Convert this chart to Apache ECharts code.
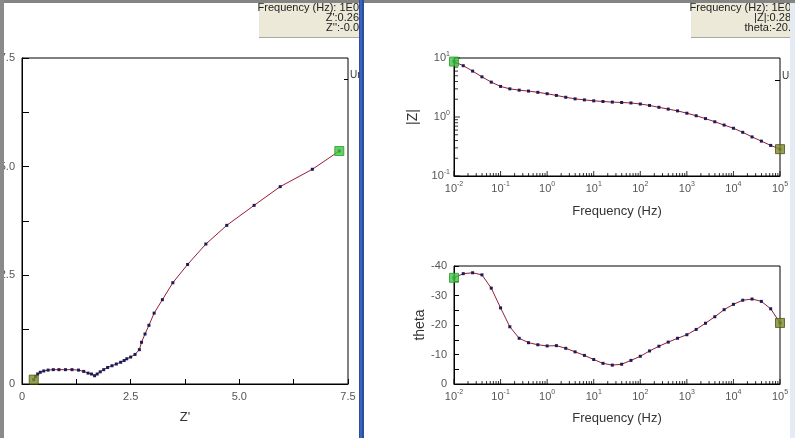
<!DOCTYPE html>
<html><head><meta charset="utf-8">
<script src="https://cdn.jsdelivr.net/npm/echarts@6/dist/echarts.min.js"></script>
<style>html,body{margin:0;padding:0;background:#fff;overflow:hidden}#c{width:795px;height:438px}</style>
</head><body><div id="c"></div>
<script>
// ---- Nyquist data (high frequency -> low frequency) ----
const zReal = [0.27,0.31,0.36,0.42,0.50,0.60,0.72,0.85,1.00,1.15,1.30,1.42,1.52,1.60,1.67,1.73,1.80,1.88,1.97,2.07,2.17,2.27,2.35,2.41,2.50,2.60,2.70,2.75,2.83,2.92,3.04,3.23,3.47,3.81,4.23,4.71,5.34,5.94,6.68,7.30];
const zImagNeg = [0.10,0.17,0.23,0.27,0.30,0.32,0.33,0.33,0.33,0.33,0.32,0.29,0.25,0.23,0.19,0.23,0.28,0.33,0.38,0.42,0.46,0.50,0.54,0.58,0.62,0.68,0.79,0.96,1.15,1.35,1.63,1.94,2.33,2.75,3.22,3.65,4.11,4.54,4.94,5.36];
// ---- Bode data (low frequency -> high frequency) ----
const freq = [0.01,0.0158,0.0251,0.0398,0.0631,0.1,0.158,0.251,0.398,0.631,1,1.58,2.51,3.98,6.31,10,15.8,25.1,39.8,63.1,100,158,251,398,631,1000,1585,2512,3981,6310,10000,15849,25119,39811,63096,100000];
const zMod = [8.7,7.4,6.0,4.8,3.9,3.3,3.0,2.85,2.75,2.62,2.48,2.32,2.16,2.03,1.95,1.88,1.83,1.79,1.76,1.73,1.66,1.57,1.46,1.36,1.27,1.16,1.05,0.94,0.83,0.73,0.645,0.55,0.46,0.39,0.33,0.285];
const theta = [-36.0,-37.4,-37.7,-37.0,-32.5,-25.8,-19.4,-15.5,-14.0,-13.3,-12.9,-13.0,-12.1,-10.9,-9.7,-8.3,-7.0,-6.4,-6.7,-8.0,-9.4,-11.2,-12.8,-14.2,-15.5,-16.7,-18.5,-20.6,-22.8,-25.2,-27.0,-28.4,-28.8,-28.0,-25.5,-20.7];
// ---- axis decorations ----
const logMinorMult = [2,3,4,5,6,7,8,9];
const freqDecades = [0.01,0.1,1,10,100,1000,10000,100000];
const zModDecades = [0.1,1,10];
const tip1 = ["Frequency (Hz): 1E0", "Z':0.26", "Z'':-0.0"];
const tip2 = ["Frequency (Hz): 1E0", "|Z|:0.28", "theta:-20."];

const FONT = 'Liberation Sans, Arial, sans-serif';
const lineColor = '#9b1b35';
const dotColor = '#1b1b55';
const green = '#3fc43f';
const olive = '#7d8a2c';

const freqMinor = [];
freqDecades.slice(0, -1).forEach(d => logMinorMult.forEach(m => freqMinor.push(d * m)));
const zMinor = [];
zModDecades.slice(0, -1).forEach(d => logMinorMult.forEach(m => zMinor.push(d * m)));

function supLabel(v) {
  const e = Math.round(Math.log10(v));
  return '{b|10}{s|' + e + '}';
}
const richSup = {
  b: {fontSize: 11, fontFamily: FONT, color: '#555'},
  s: {fontSize: 7, fontFamily: FONT, color: '#555', padding: [0, 0, 8, 0]}
};
const numLabel = v => v === 0 ? '0' : v.toFixed(1);

function linAxis(gi, min, max, interval, tickLen, opts) {
  return Object.assign({
    gridIndex: gi, type: 'value', min: min, max: max, interval: interval,
    axisLine: {show: true, onZero: false, lineStyle: {color: '#000', width: 1}},
    axisTick: {show: true, inside: true, length: tickLen, lineStyle: {color: '#000'}},
    minorTick: {show: true, splitNumber: 2, length: tickLen, lineStyle: {color: '#000'}},
    splitLine: {show: false},
    axisLabel: {color: '#555', fontSize: 11, fontFamily: FONT, margin: 7, formatter: numLabel}
  }, opts || {});
}
function logAxis(gi, min, max, opts) {
  return Object.assign({
    gridIndex: gi, type: 'log', logBase: 10, min: min, max: max, interval: 1,
    axisLine: {show: true, onZero: false, lineStyle: {color: '#000', width: 1}},
    axisTick: {show: false},
    splitLine: {show: false},
    axisLabel: {formatter: supLabel, rich: richSup, margin: 5}
  }, opts || {});
}

const nameStyle = {color: '#333', fontSize: 13, fontFamily: FONT};

// tick marks on log axes drawn as thin rect symbols placed through the axes' scales
function tickSeries(xi, yi, data, horizontal, len) {
  return {
    type: 'scatter', xAxisIndex: xi, yAxisIndex: yi, data: data, silent: true, z: 6,
    symbol: 'rect', symbolSize: horizontal ? [len, 1] : [1, len],
    symbolOffset: horizontal ? [len / 2, 0] : [0, -len / 2],
    itemStyle: {color: '#000'}
  };
}
function marker(xi, yi, pt, color, border) {
  return {type: 'scatter', xAxisIndex: xi, yAxisIndex: yi, data: [pt], symbol: 'rect', symbolSize: 9, z: 10,
    itemStyle: {color: color, borderColor: border, borderWidth: 1}};
}
function curve(xi, yi, data) {
  return {type: 'line', xAxisIndex: xi, yAxisIndex: yi, data: data, symbol: 'rect', symbolSize: 3, showSymbol: true,
    lineStyle: {color: lineColor, width: 1}, itemStyle: {color: dotColor}, z: 3};
}

const nyq = zReal.map((v, i) => [v, zImagNeg[i]]);
const bodeZ = freq.map((f, i) => [f, zMod[i]]);
const bodeT = freq.map((f, i) => [f, theta[i]]);
const last = freq.length - 1;
const nl = zReal.length - 1;

function tipGraphic(x0, x1, lines, clipRight) {
  const els = [{type: 'rect', shape: {x: x0, y: 0, width: x1 - x0, height: 37}, style: {fill: '#ece9d8'}, z: 50},
    {type: 'line', shape: {x1: x0, y1: 37.5, x2: x1, y2: 37.5}, style: {stroke: '#a8a8a0', lineWidth: 1}, z: 51}];
  lines.forEach((t, i) => els.push({type: 'text', x: clipRight, y: 8 + i * 10.2, z: 52,
    style: {text: t, fill: '#222', font: '11px ' + FONT, align: 'right', verticalAlign: 'middle'}}));
  return els;
}

const chart = echarts.init(document.getElementById('c'), null, {renderer: 'canvas'});
chart.setOption({
  animation: false,
  backgroundColor: '#fff',
  grid: [
    {left: 22, top: 58, width: 326, height: 326, show: true, borderColor: '#000', borderWidth: 1, backgroundColor: '#fff', outerBoundsMode: 'none'},
    {left: 454, top: 58, width: 326, height: 118, show: true, borderColor: '#000', borderWidth: 1, backgroundColor: '#fff', outerBoundsMode: 'none'},
    {left: 454, top: 266, width: 326, height: 118, show: true, borderColor: '#000', borderWidth: 1, backgroundColor: '#fff', outerBoundsMode: 'none'}
  ],
  xAxis: [
    linAxis(0, 0, 7.5, 2.5, 5, {name: "Z'", nameLocation: 'middle', nameGap: 27, nameTextStyle: nameStyle}),
    logAxis(1, 0.01, 100000, {name: 'Frequency (Hz)', nameLocation: 'middle', nameGap: 29, nameTextStyle: nameStyle}),
    logAxis(2, 0.01, 100000, {name: 'Frequency (Hz)', nameLocation: 'middle', nameGap: 28, nameTextStyle: nameStyle})
  ],
  yAxis: [
    linAxis(0, 0, 7.5, 2.5, 7),
    logAxis(1, 0.1, 10, {name: '|Z|', nameLocation: 'middle', nameGap: 34, nameTextStyle: Object.assign({}, nameStyle, {fontSize: 14}), axisLabel: {formatter: supLabel, rich: richSup, margin: 4}}),
    linAxis(2, -40, 0, 10, 5, {inverse: true, name: 'theta', nameLocation: 'middle', nameGap: 25, nameTextStyle: Object.assign({}, nameStyle, {fontSize: 14}),
      axisLabel: {color: '#555', fontSize: 11, fontFamily: FONT, margin: 7, formatter: v => String(v)}})
  ],
  series: [
    tickSeries(1, 1, freqDecades.map(f => [f, 0.1]), false, 5),
    tickSeries(1, 1, freqMinor.map(f => [f, 0.1]), false, 3),
    tickSeries(2, 2, freqDecades.map(f => [f, 0]), false, 5),
    tickSeries(2, 2, freqMinor.map(f => [f, 0]), false, 3),
    tickSeries(1, 1, zModDecades.map(v => [0.01, v]), true, 6),
    tickSeries(1, 1, zMinor.map(v => [0.01, v]), true, 4),
    curve(0, 0, nyq),
    marker(0, 0, nyq[0], olive, '#4a5212'),
    marker(0, 0, nyq[nl], green, '#2c9a2c'),
    curve(1, 1, bodeZ),
    marker(1, 1, bodeZ[0], green, '#2c9a2c'),
    marker(1, 1, bodeZ[last], olive, '#4a5212'),
    curve(2, 2, bodeT),
    marker(2, 2, bodeT[0], green, '#2c9a2c'),
    marker(2, 2, bodeT[last], olive, '#4a5212')
  ],
  graphic: [
    {type: 'text', x: 350, y: 75, z: 20, style: {text: 'Un', fill: '#333', font: '10px ' + FONT, verticalAlign: 'middle'}},
    {type: 'line', shape: {x1: 344, y1: 79.5, x2: 348, y2: 79.5}, style: {stroke: '#000', lineWidth: 1}, z: 20},
    {type: 'text', x: 782, y: 76, z: 20, style: {text: 'Un', fill: '#333', font: '10px ' + FONT, verticalAlign: 'middle'}},
    {type: 'line', shape: {x1: 775, y1: 80.5, x2: 780, y2: 80.5}, style: {stroke: '#000', lineWidth: 1}, z: 20}
  ].concat(tipGraphic(259, 359, tip1, 359), tipGraphic(691, 790, tip2, 791), [
    {type: 'rect', shape: {x: 0, y: 0, width: 795, height: 3}, style: {fill: '#848484'}, z: 100},
    {type: 'rect', shape: {x: 0, y: 0, width: 4, height: 438}, style: {fill: '#8a8a8a'}, z: 100},
    {type: 'rect', shape: {x: 359, y: 0, width: 5, height: 438}, style: {fill: '#2b4e9e'}, z: 100},
    {type: 'rect', shape: {x: 360, y: 0, width: 2, height: 438}, style: {fill: '#3a64bf'}, z: 101},
    {type: 'rect', shape: {x: 790, y: 3, width: 5, height: 435}, style: {fill: '#e4ebf2'}, z: 100}
  ])
});
</script>
</body></html>
